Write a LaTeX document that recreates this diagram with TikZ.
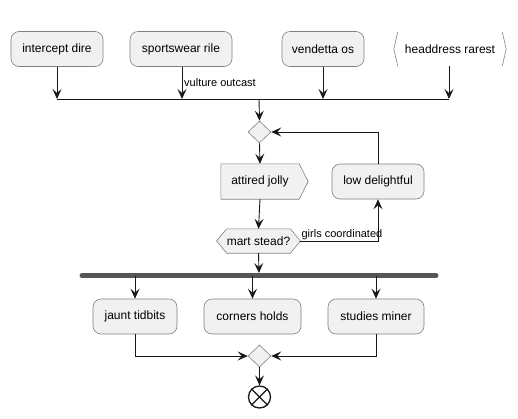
\documentclass[tikz,border=0pt]{standalone}
\usepackage{fontspec}
\setmainfont{Liberation Sans}
\usetikzlibrary{arrows.meta,shapes.geometric}
\definecolor{bgf}{HTML}{F1F1F1}
\definecolor{bdc}{HTML}{808080}
\definecolor{lnc}{HTML}{181818}
\definecolor{barc}{HTML}{555555}
\pgfdeclarelayer{back}
\pgfsetlayers{back,main}
\tikzset{
  act/.style={rectangle, rounded corners=8pt, draw=bdc, fill=bgf, line width=0.6pt,
    minimum height=35pt, inner sep=0pt, font=\fontsize{12}{14}\selectfont},
  plain/.style={inner sep=0pt, font=\fontsize{12}{14}\selectfont},
  shp/.style={draw=bdc, fill=bgf, line width=0.6pt},
  dia/.style={diamond, draw=bdc, fill=bgf, line width=0.6pt, inner sep=0pt,
    minimum width=23pt, minimum height=22pt},
  lbl/.style={font=\fontsize{11}{13}\selectfont, inner sep=1pt},
  arr/.style={draw=lnc, line width=0.9pt, -{Stealth[length=10pt,width=9pt,inset=4pt]}},
  ln/.style={draw=lnc, line width=0.9pt},
}
\begin{document}
\begin{tikzpicture}[x=1pt,y=-1pt]
\useasboundingbox (0,0) rectangle (518,418);
% top row
\node[act, minimum width=92pt] (a1) at (57,49) {intercept dire};
\node[act, minimum width=102pt] (a2) at (181,49) {sportswear rile};
\node[act, minimum width=82pt] (a3) at (323,49) {vendetta os};
\node[plain, minimum width=112pt, minimum height=34pt] (a4) at (450,49) {headdress rarest};
\draw[bdc, line width=0.6pt] ([xshift=4pt]a4.north west) -- (a4.west) -- ([xshift=4pt]a4.south west);
\draw[bdc, line width=0.6pt] ([xshift=-4pt]a4.north east) -- ([xshift=0pt]a4.east) -- ([xshift=-4pt]a4.south east);
% merge bar
\coordinate (b1) at (57,99);
\coordinate (b2) at (182,99);
\coordinate (b3) at (323,99);
\coordinate (b4) at (449,99);
\coordinate (bm) at (259,99);
\draw[ln] (b1) -- (b4);
\draw[arr] (a1.south) -- (b1);
\draw[arr] (b2 |- a2.south) -- (b2);
\draw[arr] (a3.south) -- (b3);
\draw[arr] (b4 |- a4.south) -- (b4);
\node[lbl, anchor=west] (l1) at (183,83) {vulture outcast};
% loop
\node[dia] (d1) at (259.5,132) {};
\draw[arr] (bm) -- (d1.north);
\node[plain, minimum width=78pt, minimum height=35pt] (aj) at (260,181.5) {attired jolly};
\begin{pgfonlayer}{back}
\path[shp] (aj.north west) -- (aj.north east) -- ([xshift=9pt]aj.east) -- (aj.south east) -- (aj.south west) -- cycle;
\end{pgfonlayer}
\node[act, minimum width=92pt] (ld) at (378,181.5) {low delightful};
\node[plain, minimum width=60pt, minimum height=24pt] (ms) at (258.5,241) {mart stead?};
\begin{pgfonlayer}{back}
\path[shp] (ms.north west) -- (ms.north east) -- ([xshift=10pt]ms.east) -- (ms.south east) -- (ms.south west) -- ([xshift=-10pt]ms.west) -- cycle;
\end{pgfonlayer}
\coordinate (mse) at ([xshift=10pt]ms.east);
\draw[arr] (d1.south) -- (aj.north);
\draw[arr] (aj.south) -- (ms.north);
\draw[arr] (mse) -| (ld.south);
\draw[arr] (ld.north) |- (d1.east);
\node[lbl, anchor=south west] (l2) at (mse) {girls coordinated};
% fork
\coordinate (f1) at (82,275.5);
\coordinate (f2) at (436,275.5);
\coordinate (fb) at (259,273);
\draw[barc, line width=5pt, line cap=round] (f1) -- (f2);
\draw[arr] (ms.south) -- (fb);
\node[act, minimum width=84pt] (j1) at (135,316.5) {jaunt tidbits};
\node[act, minimum width=97pt] (j2) at (252.5,316.5) {corners holds};
\node[act, minimum width=96pt] (j3) at (376,316.5) {studies miner};
\draw[arr] (j1.north |- f1) -- (j1.north);
\draw[arr] (j2.north |- f1) -- (j2.north);
\draw[arr] (j3.north |- f1) -- (j3.north);
\node[dia] (d2) at (259.5,356) {};
\draw[arr] (j1.south) |- (d2.west);
\draw[arr] (j3.south) |- (d2.east);
\node[circle, draw=lnc, line width=1.3pt, minimum size=22pt, inner sep=0pt, fill=white] (e) at (259.5,397) {};
\draw[lnc, line width=1.3pt] (e.north west) -- (e.south east) (e.north east) -- (e.south west);
\draw[arr] (d2.south) -- (e.north);
\end{tikzpicture}
\end{document}
